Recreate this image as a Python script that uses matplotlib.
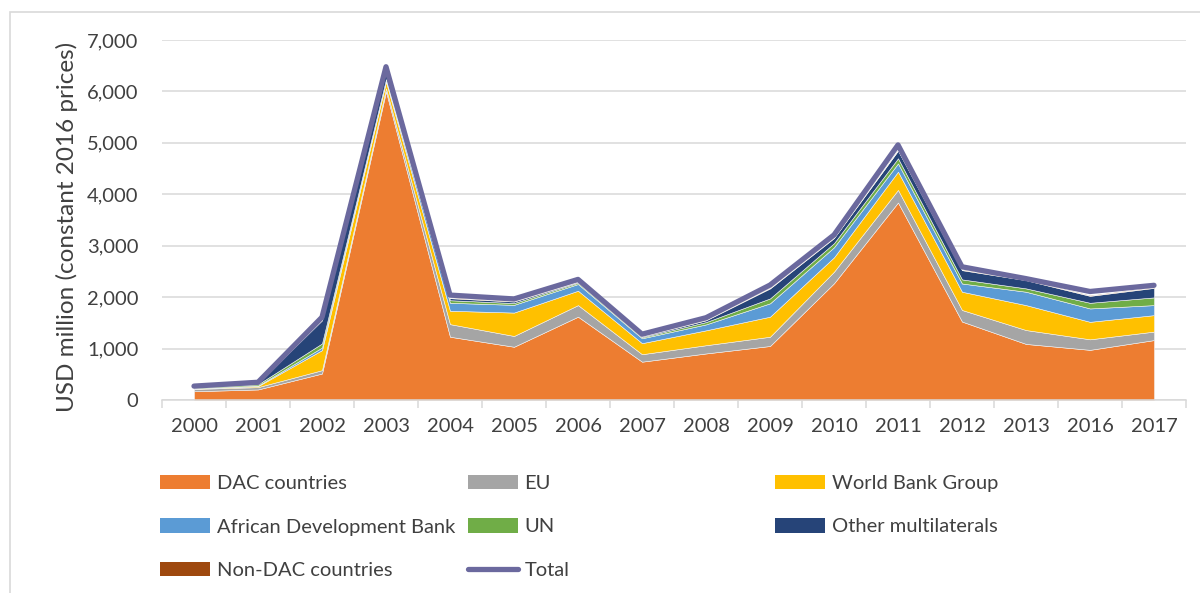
import matplotlib.pyplot as plt
import numpy as np
from matplotlib.lines import Line2D
from matplotlib.patches import Patch, Rectangle

plt.rcParams.update({
    "font.family": ["Lato", "DejaVu Sans"],
    "font.size": 14.5,
})

years = ["2000", "2001", "2002", "2003", "2004", "2005", "2006", "2007",
         "2008", "2009", "2010", "2011", "2012", "2013", "2016", "2017"]

dac = [170, 205, 515, 6000, 1230, 1035, 1620, 745, 905, 1050, 2270, 3840, 1525, 1090, 975, 1165]
eu = [45, 45, 65, 60, 245, 210, 225, 145, 160, 180, 225, 245, 225, 270, 205, 165]
wbg = [5, 20, 390, 130, 260, 455, 280, 215, 290, 390, 280, 355, 355, 485, 340, 320]
afdb = [5, 10, 50, 30, 155, 150, 130, 95, 115, 260, 195, 160, 160, 260, 260, 195]
un = [15, 25, 80, 20, 50, 35, 25, 20, 45, 95, 80, 100, 80, 65, 110, 150]
other = [5, 25, 450, 180, 40, 30, 15, 15, 35, 195, 100, 150, 180, 160, 135, 185]
non_dac = [5, 5, 10, 10, 10, 10, 10, 10, 10, 10, 10, 10, 10, 10, 10, 10]
total = [270, 345, 1610, 6480, 2040, 1965, 2345, 1280, 1600, 2235, 3210, 4960, 2590, 2360, 2110, 2230]

names = ["DAC countries", "EU", "World Bank Group", "African Development Bank",
         "UN", "Other multilaterals", "Non-DAC countries"]
colors = ["#ED7D31", "#A5A5A5", "#FFC000", "#5B9BD5", "#70AD47", "#264478", "#9E480E"]
total_color = "#6B699E"

fig = plt.figure(figsize=(12, 5.93), dpi=100)
ax = fig.add_axes([162 / 1200, 1 - 400 / 593, 1024 / 1200, 360 / 593])

x = np.arange(len(years))
ax.stackplot(x, dac, eu, wbg, afdb, un, other, non_dac, colors=colors,
             edgecolor="#f2f2f2", linewidth=0.4, zorder=2)
ax.plot(x, total, color=total_color, lw=3.8, solid_joinstyle="round",
        solid_capstyle="round", zorder=3)

ax.set_xlim(-0.5, len(years) - 0.5)
ax.set_ylim(0, 7000)
ax.set_yticks(np.arange(0, 7001, 1000))
ax.set_yticklabels([f"{v:,}" for v in range(0, 7001, 1000)], color="#404040")
ax.yaxis.grid(True, color="#D9D9D9", lw=1.1, zorder=0)
ax.set_axisbelow(True)
ax.set_xticks(x)
ax.set_xticklabels(years, color="#404040")
ax.set_xticks(np.arange(-0.5, len(years)), minor=True)
ax.tick_params(axis="x", which="major", length=0, pad=13)
ax.tick_params(axis="x", which="minor", length=6, color="#D9D9D9", width=1.1)
ax.tick_params(axis="y", length=0, pad=17)
for s in ["top", "right", "left"]:
    ax.spines[s].set_visible(False)
ax.spines["bottom"].set_color("#D9D9D9")
ax.spines["bottom"].set_linewidth(1.1)
ax.set_ylabel("USD million (constant 2016 prices)", fontsize=17.5, color="#404040")
ax.yaxis.set_label_coords(-0.082, 0.48)

# legend as three separate columns, like the Excel layout
handles = [Patch(facecolor=c, edgecolor="none") for c in colors]
handles.append(Line2D([0], [0], color=total_color, lw=3.8, solid_capstyle="round"))
labels = names + ["Total"]
cols = [[0, 3, 6], [1, 4, 7], [2, 5]]
col_x = [142, 450, 757]
for cx, idx in zip(col_x, cols):
    fig.legend([handles[i] for i in idx], [labels[i] for i in idx],
               loc="upper left", bbox_to_anchor=(cx / 1200, 1 - 457 / 593),
               frameon=False, handlelength=2.5, handleheight=0.7,
               handletextpad=0.3, labelspacing=1.3, fontsize=14.5,
               labelcolor="#404040")

fig.patches.append(Rectangle((10 / 1200, -0.05), 1.1, 1.05 - 12 / 593,
                             transform=fig.transFigure, fill=False,
                             edgecolor="#D9D9D9", lw=1.2))

fig.savefig("out.png", dpi=100, facecolor="white")
